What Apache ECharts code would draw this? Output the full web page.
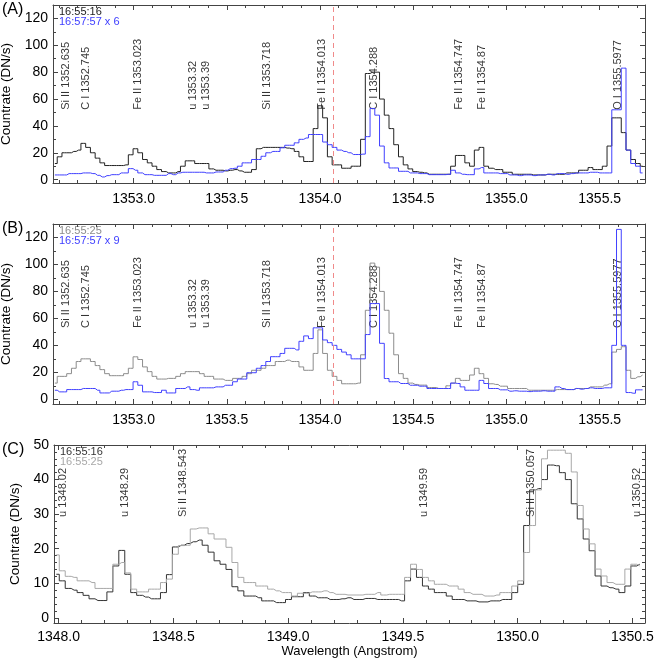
<!DOCTYPE html>
<html>
<head>
<meta charset="utf-8">
<script src="https://cdn.jsdelivr.net/npm/echarts@6/dist/echarts.min.js"></script>
<style>
  html, body { margin: 0; padding: 0; background: #fff; }
  #chart { width: 664px; height: 664px; }
</style>
</head>
<body>
<div id="chart"></div>
<script>
// wavelength grid of the spectra (bin centre of first pixel, Angstrom per pixel)
var AB_START = 1352.578, AB_STEP = 0.02542;
var C_START = 1347.99, C_STEP = 0.02594;

// (A) 16:55:16 and 16:57:57 (x6)
var countsA1 = [12, 17, 20, 20, 21, 22, 27, 24, 20, 16, 12.5, 10.5, 10.5, 10.5, 10.5, 11, 18.5, 23, 20, 15,
  12.5, 10, 7.5, 6, 5, 5, 6, 10, 14, 14, 12, 12, 12, 8, 7, 7, 6.5, 7, 7.5, 6.5,
  5.5, 5.5, 7.5, 23, 24, 24, 24, 24, 24, 23.5, 23, 21, 17, 13.5, 13.5, 38, 55, 46, 17, 11,
  11, 8.5, 8.5, 10, 10, 30, 79, 80, 80, 60, 48, 38, 26, 17, 11, 8, 6, 5.5, 5, 4,
  4, 4, 4, 4, 10, 18, 18, 12.5, 10, 22, 24, 10, 8.5, 7.5, 7.5, 5.5, 5.5, 4, 4, 4,
  4, 3.5, 3.5, 3.5, 4, 4, 4, 4, 5, 5, 5, 7, 7, 9, 7.5, 7.5, 10, 25, 46, 46,
  35, 22, 15, 12, 10];
var countsA2 = [3.5, 3.5, 3.5, 4.5, 4.5, 4.5, 5, 5, 4.5, 3.2, 2, 3, 3.7, 3.7, 5, 5, 8.2, 7, 5, 3.7,
  3.7, 3.2, 3.2, 3.2, 4.5, 3.7, 5, 5.5, 5.5, 5.5, 5.5, 5.5, 5, 5, 5.7, 5.7, 7, 8.2, 8.5, 10,
  12.5, 12.5, 15, 15, 17.4, 20, 21, 21, 23.7, 25.6, 25.6, 27.4, 30, 31, 33.6, 33.6, 33.6, 28, 26, 24,
  22, 21, 20, 18.7, 18.7, 19, 32, 53, 48, 25, 12.5, 8.7, 8.7, 6.2, 6.2, 5, 5, 4.5, 4.5, 3.7,
  3.7, 3.7, 3.7, 4, 7, 5, 4, 3.7, 3.7, 8, 9, 5, 5, 5, 4.5, 4.5, 3.5, 3.5, 3, 3.5,
  3.5, 3, 3.5, 3.5, 4, 3.5, 4.5, 4.5, 4, 4.5, 5, 5, 5, 5.5, 5.5, 5, 5, 5, 52, 52,
  83, 22, 12, 10, 5];

// (B) 16:55:25 and 16:57:57 (x9)
var countsB1 = [12, 17, 17, 19, 23, 28, 30, 30, 28, 25, 22, 19, 17.5, 17.5, 17.5, 19, 23, 31.5, 29.5, 24,
  20.5, 17, 15, 15, 15.5, 15.5, 17, 19, 20.5, 20.5, 20.5, 19, 17, 17, 15, 15, 14, 14, 15.5, 15.5,
  17, 19, 21.5, 21.5, 23, 25, 25, 28, 28, 29, 28, 28, 24, 21.5, 21.5, 34, 51.5, 34, 21.5, 17,
  14, 11.5, 11.5, 11.5, 12, 33, 66, 101, 98, 80, 66, 49, 33, 19, 15.5, 12, 11, 10.5, 10.5, 8.7,
  8.7, 8, 8, 10, 12, 15.5, 14, 14, 18, 23, 19, 15.5, 11.5, 11, 9.7, 9.7, 8, 8, 8, 8,
  6.7, 6.7, 6.7, 6.7, 6.7, 6.7, 7.2, 7.2, 7.2, 7.2, 8, 8, 8, 9.2, 9.2, 9.2, 10.5, 11.5, 35, 37,
  39, 21.5, 15.5, 16.7, 18];
var countsB2 = [6.7, 5.5, 5.5, 7.2, 7.2, 7.2, 8, 8, 8, 6.7, 4.7, 4.7, 6, 6, 6.7, 7.2, 7.2, 13, 10.4, 5.5,
  5.5, 5, 5, 6.7, 4.7, 4.7, 8, 8, 9.2, 7.2, 6.7, 8.5, 8.5, 8.5, 9.2, 9.2, 10.4, 10.4, 13, 15,
  15, 19.7, 19.7, 23, 25, 28, 31.6, 31.6, 34, 37.8, 37.8, 36.6, 43, 47, 45, 53, 53, 44, 42, 40,
  37, 35, 33, 30, 30, 30, 48, 71, 71, 41.5, 15.4, 13, 13, 11.7, 11.7, 10.4, 10.4, 9.7, 9.7, 8,
  8, 8, 8, 8, 12, 11.7, 9.2, 6.7, 6.7, 6.7, 14, 11.7, 8, 8, 7, 7, 6, 6.3, 6, 6,
  5.7, 6, 6, 6.3, 6, 6, 9.2, 8, 7.2, 7.2, 8, 7.5, 8, 8.5, 8, 8, 8.5, 8.5, 40, 126,
  40, 5, 4.5, 7, 7];

// (C) 16:55:16 and 16:55:25
var countsC1 = [12.6, 10.7, 8.5, 8, 7.3, 6.5, 5.5, 5, 5, 7.5, 15, 19.5, 12.6, 7.3, 6.5, 6, 5.5, 5.5, 7.3, 12.5,
  20.5, 21, 21.5, 22, 22.5, 21, 19, 16.5, 15.5, 14, 9, 7.8, 6.3, 6.3, 5.8, 4.9, 4.9, 4.4, 4.4, 5.3,
  6.1, 6.1, 7.3, 6.3, 5.8, 5.8, 5.3, 5.3, 5.5, 5.8, 5.3, 5.3, 5.6, 5.6, 5.3, 5.3, 5.3, 5.3, 4.9, 10.7,
  14.1, 11.7, 9.2, 8.3, 7.3, 7.3, 6.3, 5.3, 5.3, 4.9, 4.9, 4.6, 4.6, 4.9, 4.9, 5.3, 5.3, 7.3, 9.7, 26.7,
  37, 37.4, 40, 44.2, 44, 42, 40, 33, 28.6, 22.8, 19.4, 12.1, 9.2, 8.7, 8.3, 7.3, 9.2, 15, 15.5];
var countsC2 = [18.2, 13.6, 12, 11.7, 10.7, 10.7, 10.2, 8.5, 8.5, 8.5, 15.5, 16, 13, 8.3, 7.5, 7.5, 8.3, 8.3, 10.2, 11.2,
  18.4, 20.9, 21, 25.7, 26, 26, 24.3, 22.8, 22.8, 20.4, 16, 11.7, 10.2, 10.2, 9.2, 9.2, 8.3, 7.8, 7.3, 7.3,
  6.3, 7.1, 7.1, 7.5, 7.5, 7.8, 7.3, 6.8, 6.8, 6.6, 6.6, 6.6, 6.8, 6.8, 7.3, 6.6, 6.8, 6.8, 6.8, 11.7,
  15.5, 14, 11.7, 10.7, 9.7, 9.7, 9.2, 9.2, 8.3, 7.3, 6.8, 6.8, 6.3, 6.3, 6.6, 7.3, 7.3, 9.2, 10.7, 18.9,
  26.7, 37, 46, 48.5, 48.5, 48.5, 47.6, 42.2, 32.5, 25.7, 21.4, 14.1, 12.1, 10.2, 9.7, 9.7, 14.1, 15.5, 15];

// line identifications
var linesAB = ['Si II 1352.635', 'C I 1352.745', 'Fe II 1353.023', 'u 1353.32', 'u 1353.39', 'Si II 1353.718',
  'Fe II 1354.013', 'C I 1354.288', 'Fe II 1354.747', 'Fe II 1354.87', 'O I 1355.5977'];
var linesC = ['u 1348.02', 'u 1348.29', 'Si II 1348.543', 'u 1349.59', 'Si II 1350.057', 'u 1350.52'];
var refWave = 1354.07;

// tick labels
var ticksAB = [1353.0, 1353.5, 1354.0, 1354.5, 1355.0, 1355.5];
var ticksC = [1348.0, 1348.5, 1349.0, 1349.5, 1350.0, 1350.5];
var yTicksAB = [0, 20, 40, 60, 80, 100, 120];
var yTicksC = [0, 10, 20, 30, 40, 50];

var FONT = 'Liberation Sans, Arial, Helvetica, sans-serif';
var AXIS_COLOR = '#444';

function minorList(lo, hi, d) {
  var out = [];
  for (var k = Math.ceil(lo / d - 1e-9); k * d <= hi + 1e-9; k++) out.push(+(k * d).toFixed(4));
  return out;
}

function grid(start, step, vals) {
  return vals.map(function (v, k) { return [+(start + k * step).toFixed(4), v]; });
}

var panels = [
  { tag: '(A)', grid: { left: 53, top: 5, width: 592, height: 178 }, x: [1352.568, 1355.743], y: [-2.5, 130],
    xTicks: ticksAB, yTicks: yTicksAB, yMinor: 10, start: AB_START, step: AB_STEP,
    s1: countsA1, s2: countsA2, c1: '#222', c2: '#4040ff', n1: '16:55:16', n2: '16:57:57 x 6',
    lines: linesAB, labelY: 52, ref: true, labelMargin: 9 },
  { tag: '(B)', grid: { left: 53, top: 224, width: 592, height: 180 }, x: [1352.568, 1355.743], y: [-3.5, 130],
    xTicks: ticksAB, yTicks: yTicksAB, yMinor: 10, start: AB_START, step: AB_STEP,
    s1: countsB1, s2: countsB2, c1: '#8c8c8c', c2: '#4040ff', n1: '16:55:25', n2: '16:57:57 x 9',
    lines: linesAB, labelY: 52.8, ref: true, labelMargin: 9 },
  { tag: '(C)', grid: { left: 54, top: 445, width: 591, height: 178 }, x: [1347.98, 1350.555], y: [-1.5, 50],
    xTicks: ticksC, yTicks: yTicksC, yMinor: 2, start: C_START, step: C_STEP,
    s1: countsC1, s2: countsC2, c1: '#333', c2: '#a8a8a8', n1: '16:55:16', n2: '16:55:25',
    lines: linesC, labelY: 29.2, ref: false, labelMargin: 7, xName: 'Wavelength (Angstrom)' }
];

var grids = [], xAxes = [], yAxes = [], series = [], graphics = [];

panels.forEach(function (p, g) {
  var gr = Object.assign({ outerBoundsMode: 'none', containLabel: false }, p.grid);
  grids.push(gr);
  var xMinor = minorList(p.x[0], p.x[1], 0.1);
  var yMinor = minorList(p.y[0], p.y[1], p.yMinor);

  // bottom/top x axes: major + minor tick rows
  ['bottom', 'top'].forEach(function (pos) {
    [true, false].forEach(function (major) {
      var ax = {
        gridIndex: g, type: 'value', position: pos, min: p.x[0], max: p.x[1],
        axisLine: { show: major, onZero: false, lineStyle: { color: AXIS_COLOR, width: 1 } },
        axisTick: { show: true, inside: true, length: major ? 5 : 3, customValues: major ? p.xTicks : xMinor,
          lineStyle: { color: AXIS_COLOR } },
        axisLabel: { show: false },
        splitLine: { show: false }
      };
      if (major && pos === 'bottom') {
        ax.axisLabel = { show: true, customValues: p.xTicks, formatter: function (v) { return v.toFixed(1); },
          color: '#000', fontSize: 14, fontFamily: FONT, margin: p.labelMargin };
        if (p.xName) {
          ax.name = p.xName; ax.nameLocation = 'middle'; ax.nameGap = 22;
          ax.nameTextStyle = { color: '#000', fontSize: 13, fontFamily: FONT };
        }
      }
      xAxes.push(ax);
    });
  });

  ['left', 'right'].forEach(function (pos) {
    [true, false].forEach(function (major) {
      var ax = {
        gridIndex: g, type: 'value', position: pos, min: p.y[0], max: p.y[1],
        axisLine: { show: major, onZero: false, lineStyle: { color: AXIS_COLOR, width: 1 } },
        axisTick: { show: true, inside: true, length: major ? 5 : 3, customValues: major ? p.yTicks : yMinor,
          lineStyle: { color: AXIS_COLOR } },
        axisLabel: { show: false },
        splitLine: { show: false }
      };
      if (major && pos === 'left') {
        ax.axisLabel = { show: true, customValues: p.yTicks, color: '#000', fontSize: 14, fontFamily: FONT, margin: 5 };
        ax.name = 'Countrate (DN/s)'; ax.nameLocation = 'middle'; ax.nameGap = 31;
        ax.nameTextStyle = { color: '#000', fontSize: 13.5, fontFamily: FONT };
      }
      yAxes.push(ax);
    });
  });

  var xi = 4 * g, yi = 4 * g;

  // line identifications
  series.push({
    type: 'scatter', xAxisIndex: xi, yAxisIndex: yi, symbolSize: 2, silent: true, z: 1,
    itemStyle: { color: 'rgba(0,0,0,0)' },
    data: p.lines.map(function (n) { return { name: n, value: [parseFloat(n.split(' ').pop()), p.labelY] }; }),
    label: { show: true, formatter: '{b}', position: 'inside', rotate: 90, align: 'left', verticalAlign: 'middle',
      fontSize: 11, fontFamily: FONT, color: '#000' }
  });

  var first = {
    type: 'line', xAxisIndex: xi, yAxisIndex: yi, step: 'middle', showSymbol: false, symbol: 'none',
    data: grid(p.start, p.step, p.s1), lineStyle: { color: p.c1, width: 1 }, z: 2
  };
  if (p.ref) {
    first.markLine = { silent: true, symbol: ['none', 'none'], label: { show: false },
      lineStyle: { color: '#f08a8a', type: [5, 4], width: 1 }, data: [{ xAxis: refWave }] };
  }
  series.push(first);
  series.push({
    type: 'line', xAxisIndex: xi, yAxisIndex: yi, step: 'middle', showSymbol: false, symbol: 'none',
    data: grid(p.start, p.step, p.s2), lineStyle: { color: p.c2, width: 1 }, z: 3
  });

  // panel tag and time stamps
  graphics.push({ type: 'text', left: 2, top: p.grid.top - 3, style: { text: p.tag, font: '16px ' + FONT, fill: '#000' } });
  graphics.push({ type: 'text', left: p.grid.left + 6, top: p.grid.top + 1, style: { text: p.n1, font: '11px ' + FONT, fill: p.c1 } });
  graphics.push({ type: 'text', left: p.grid.left + 6, top: p.grid.top + 11, style: { text: p.n2, font: '11px ' + FONT, fill: p.c2 } });
});

var chart = echarts.init(document.getElementById('chart'));
chart.setOption({
  animation: false,
  backgroundColor: '#fff',
  grid: grids,
  xAxis: xAxes,
  yAxis: yAxes,
  series: series,
  graphic: graphics
});
</script>
</body>
</html>
